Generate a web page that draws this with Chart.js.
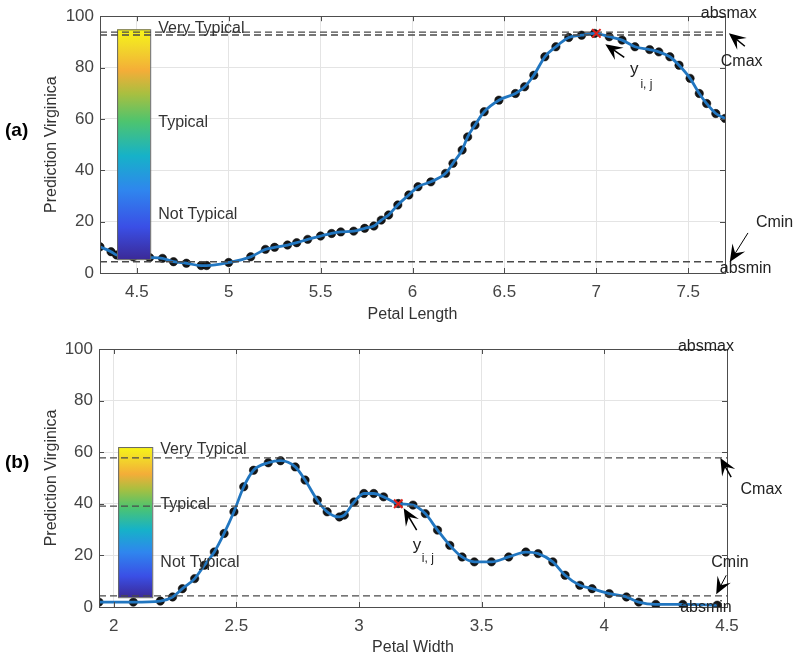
<!DOCTYPE html>
<html>
<head>
<meta charset="utf-8">
<script src="https://cdn.jsdelivr.net/npm/chart.js@4.4.1/dist/chart.umd.min.js"></script>
<style>
  html, body { margin: 0; padding: 0; background: #fff; }
  #wrap { position: relative; width: 793px; height: 659px; }
  .panel { position: absolute; left: 0; width: 793px; }
  .tag { position: absolute; left: 5px; font: bold 19px "Liberation Sans", Arial, sans-serif; color: #000; }
</style>
</head>
<body>
<div id="wrap">
  <div class="panel" style="top:0;height:330px"><canvas id="chartA" width="793" height="330"></canvas></div>
  <div class="panel" style="top:330px;height:329px"><canvas id="chartB" width="793" height="329"></canvas></div>
  <div class="tag" style="top:119px">(a)</div>
  <div class="tag" style="top:451px">(b)</div>
</div>
<script>
// panel (a): petal length
const lenX = [4.30, 4.36, 4.39, 4.48, 4.57, 4.64, 4.70, 4.77, 4.85, 4.88, 5.00, 5.12, 5.20, 5.25, 5.32, 5.37, 5.43, 5.50,
  5.56, 5.61, 5.68, 5.74, 5.79, 5.83, 5.87, 5.92, 5.98, 6.03, 6.10, 6.18, 6.22, 6.27, 6.30, 6.34, 6.39, 6.47, 6.56,
  6.61, 6.66, 6.72, 6.78, 6.85, 6.92, 6.99, 7.07, 7.14, 7.21, 7.29, 7.34, 7.40, 7.45, 7.51, 7.56, 7.60, 7.65, 7.70];
const lenY = [10.2, 8.3, 7.0, 6.3, 6.0, 5.7, 4.4, 3.8, 2.9, 2.9, 4.1, 6.3, 9.2, 10.0, 10.9, 11.8, 13.1, 14.4,
  15.4, 16.0, 16.3, 17.4, 18.3, 20.6, 22.6, 26.5, 30.4, 33.6, 35.5, 38.8, 42.7, 47.9, 53.0, 57.6, 62.8, 67.3, 69.9,
  72.5, 77.0, 84.2, 88.1, 91.7, 92.6, 93.3, 92.0, 90.7, 88.1, 87.0, 86.1, 84.2, 80.9, 75.8, 69.9, 66.0, 62.1, 60.2];
const lenTicks = [4.5, 5, 5.5, 6, 6.5, 7, 7.5];
const lenRefLines = [93.8, 92.7, 4.4];
const lenPick = [7.0, 93.3];

// panel (b): petal width
const widX = [1.94, 2.08, 2.19, 2.24, 2.28, 2.33, 2.37, 2.41, 2.45, 2.49, 2.53, 2.57, 2.63, 2.68, 2.74, 2.78, 2.83,
  2.87, 2.92, 2.94, 2.98, 3.02, 3.06, 3.10, 3.16, 3.22, 3.27, 3.32, 3.37, 3.42, 3.47, 3.54, 3.61, 3.68, 3.73, 3.79,
  3.84, 3.90, 3.95, 4.02, 4.09, 4.14, 4.21, 4.32, 4.46];
const widY = [1.9, 1.9, 2.3, 3.9, 7.1, 11.0, 16.2, 21.3, 28.5, 36.9, 46.6, 53.0, 55.9, 56.7, 54.3, 49.2, 41.4,
  36.9, 34.9, 35.6, 40.7, 44.0, 44.0, 42.7, 40.1, 39.5, 36.2, 29.8, 23.9, 19.4, 17.5, 17.5, 19.4, 21.3, 20.7, 17.5,
  12.3, 8.4, 7.1, 5.2, 3.9, 1.9, 1.0, 1.0, 0.7];
const widTicks = [2, 2.5, 3, 3.5, 4, 4.5];
const widRefLines = [57.8, 39.1, 4.3];
const widPick = [3.16, 40.0];

const yTicks = [0, 20, 40, 60, 80, 100];
const scaleLabels = ['Very Typical', 'Typical', 'Not Typical'];

Chart.defaults.font.family = '"Liberation Sans", Arial, sans-serif';

const parula = [
  [0, '#3b2a98'], [0.14, '#3a4fe6'], [0.3, '#2f86ee'], [0.45, '#16b2c8'],
  [0.6, '#4ec46e'], [0.72, '#a9bf40'], [0.82, '#f4ad38'], [0.92, '#f2d72a'], [1, '#f8f516']
];

function arrow(ctx, x0, y0, x1, y1, w, big) {
  const a = Math.atan2(y1 - y0, x1 - x0);
  const L = big ? 17 : 13, H = big ? 7.5 : 5.5;
  ctx.save();
  ctx.strokeStyle = '#000';
  ctx.fillStyle = '#000';
  ctx.lineWidth = w;
  ctx.beginPath();
  ctx.moveTo(x0, y0);
  ctx.lineTo(x1 - Math.cos(a) * 6, y1 - Math.sin(a) * 6);
  ctx.stroke();
  ctx.translate(x1, y1);
  ctx.rotate(a);
  ctx.beginPath();
  ctx.moveTo(0, 0);
  ctx.lineTo(-L, -H);
  ctx.lineTo(-L * 0.6, 0);
  ctx.lineTo(-L, H);
  ctx.closePath();
  ctx.fill();
  ctx.restore();
}

const overlay = {
  id: 'overlay',
  afterDatasetDraw(chart, args, opts) {
    if (args.index !== 1) return;
    const { x, y } = chart.scales;
    const ctx = chart.ctx;
    const b = opts.bar;
    const l = x.getPixelForValue(b[0]), r = x.getPixelForValue(b[1]);
    const t = y.getPixelForValue(b[3]), bt = y.getPixelForValue(b[2]);
    const g = ctx.createLinearGradient(0, bt, 0, t);
    parula.forEach(s => g.addColorStop(s[0], s[1]));
    ctx.save();
    ctx.fillStyle = g;
    ctx.fillRect(l, t, r - l, bt - t);
    ctx.strokeStyle = '#666';
    ctx.lineWidth = 1;
    ctx.strokeRect(l + 0.5, t + 0.5, r - l, bt - t);
    ctx.restore();
  },
  afterDraw(chart, args, opts) {
    const { x, y } = chart.scales;
    const a = chart.chartArea;
    const ctx = chart.ctx;
    ctx.save();
    // box and inward ticks
    ctx.strokeStyle = '#4d4d4d';
    ctx.lineWidth = 1;
    ctx.strokeRect(Math.round(a.left) + 0.5, Math.round(a.top) + 0.5, Math.round(a.right - a.left), Math.round(a.bottom - a.top));
    ctx.beginPath();
    x.ticks.forEach(tk => {
      const px = Math.round(x.getPixelForValue(tk.value)) + 0.5;
      ctx.moveTo(px, a.bottom); ctx.lineTo(px, a.bottom - 5);
      ctx.moveTo(px, a.top); ctx.lineTo(px, a.top + 5);
    });
    y.ticks.forEach(tk => {
      const py = Math.round(y.getPixelForValue(tk.value)) + 0.5;
      ctx.moveTo(a.left, py); ctx.lineTo(a.left + 5, py);
      ctx.moveTo(a.right, py); ctx.lineTo(a.right - 5, py);
    });
    ctx.stroke();

    // colorbar captions
    ctx.fillStyle = '#333';
    ctx.textBaseline = 'middle';
    ctx.textAlign = 'left';
    ctx.font = '16px "Liberation Sans", Arial, sans-serif';
    opts.captions.forEach((c, i) => {
      ctx.fillText(scaleLabels[i], x.getPixelForValue(c[0]), y.getPixelForValue(c[1]));
    });

    // annotation texts
    ctx.fillStyle = '#222';
    opts.texts.forEach(tx => {
      ctx.font = tx[3] + 'px "Liberation Sans", Arial, sans-serif';
      ctx.fillText(tx[0], x.getPixelForValue(tx[1]), y.getPixelForValue(tx[2]));
    });

    // arrows
    opts.arrows.forEach(ar => {
      arrow(ctx, x.getPixelForValue(ar[0]), y.getPixelForValue(ar[1]),
        x.getPixelForValue(ar[2]), y.getPixelForValue(ar[3]), ar[4], ar[5]);
    });
    ctx.restore();
  }
};

function makeChart(id, cfg) {
  const pts = cfg.xs.map((v, i) => ({ x: v, y: cfg.ys[i] }));
  const xmin = cfg.range[0], xmax = cfg.range[1];
  const dashed = cfg.refs.map(v => ({
    type: 'line',
    data: [{ x: xmin, y: v }, { x: xmax, y: v }],
    borderColor: '#4a4a4a',
    borderWidth: 1.4,
    borderDash: [7, 4],
    pointRadius: 0,
    order: -1
  }));
  return new Chart(document.getElementById(id), {
    type: 'scatter',
    data: {
      datasets: [
        { data: pts, showLine: false, pointRadius: 4.2, pointBackgroundColor: '#161616', pointBorderColor: '#000', pointBorderWidth: 0.5, order: 1 },
        { type: 'line', data: pts, borderColor: '#2176c0', borderWidth: 2.8, pointRadius: 0, cubicInterpolationMode: 'monotone', order: 0 },
        ...dashed,
        { data: [{ x: cfg.pick[0], y: cfg.pick[1] }], pointStyle: 'crossRot', pointRadius: 6, borderColor: '#e0201b', pointBorderWidth: 2, order: -2 }
      ]
    },
    options: {
      responsive: false,
      animation: false,
      events: [],
      layout: { padding: cfg.pad },
      plugins: {
        legend: { display: false },
        tooltip: { enabled: false },
        overlay: { bar: cfg.bar, captions: cfg.captions, texts: cfg.texts, arrows: cfg.arrows }
      },
      scales: {
        x: {
          type: 'linear', min: xmin, max: xmax,
          afterBuildTicks: s => { s.ticks = cfg.ticks.map(v => ({ value: v })); },
          afterFit: s => { s.height = cfg.xh; },
          ticks: { callback: v => String(v), color: '#444', font: { size: 17 }, padding: 9, maxRotation: 0, autoSkip: false },
          grid: { color: '#e4e4e4', drawTicks: false },
          border: { display: false },
          title: { display: true, text: cfg.xTitle, color: '#333', font: { size: 16 }, padding: { top: 2, bottom: 0 } }
        },
        y: {
          min: 0, max: 100,
          afterBuildTicks: s => { s.ticks = yTicks.map(v => ({ value: v })); },
          afterFit: s => { s.width = cfg.yw; },
          ticks: { color: '#444', font: { size: 17 }, padding: 6 },
          grid: { color: '#e4e4e4', drawTicks: false },
          border: { display: false },
          title: { display: true, text: 'Prediction Virginica', color: '#333', font: { size: 16 }, padding: { top: 0, bottom: 0 } }
        }
      }
    },
    plugins: [overlay]
  });
}

makeChart('chartA', {
  xs: lenX, ys: lenY, ticks: lenTicks, refs: lenRefLines, pick: lenPick,
  range: [4.3, 7.7], xTitle: 'Petal Length',
  pad: { left: 42, top: 16, right: 68, bottom: 6 }, yw: 58, xh: 51,
  bar: [4.393, 4.573, 5.4, 94.9],
  captions: [[4.617, 95.3], [4.617, 58.4], [4.617, 22.6]],
  texts: [['absmax', 7.568, 101.2, 16], ['Cmax', 7.677, 82.2, 16], ['y', 7.183, 79.5, 17], ['i, j', 7.24, 73.2, 12],
    ['Cmin', 7.868, 19.8, 16], ['absmin', 7.672, 1.9, 16]],
  arrows: [[7.808, 88.3, 7.721, 93.4, 1.5, true], [7.152, 84.0, 7.049, 89.1, 1.5, true], [7.825, 15.6, 7.726, 4.3, 1, true]]
});

makeChart('chartB', {
  xs: widX, ys: widY, ticks: widTicks, refs: widRefLines, pick: widPick,
  range: [1.94, 4.5], xTitle: 'Petal Width',
  pad: { left: 42, top: 19, right: 66, bottom: 2 }, yw: 57, xh: 50,
  bar: [2.018, 2.157, 3.8, 62.0],
  captions: [[2.19, 61.2], [2.19, 39.5], [2.19, 17.3]],
  texts: [['absmax', 4.30, 100.8, 16], ['Cmax', 4.555, 45.7, 16], ['y', 3.219, 23.9, 17], ['i, j', 3.256, 18.6, 12],
    ['Cmin', 4.436, 17.3, 16], ['absmin', 4.309, -0.1, 16]],
  arrows: [[4.517, 50.3, 4.473, 57.8, 1.5, true], [3.235, 29.8, 3.182, 38.3, 1.5, true], [4.497, 12.3, 4.456, 4.9, 1, true]]
});
</script>
</body>
</html>
